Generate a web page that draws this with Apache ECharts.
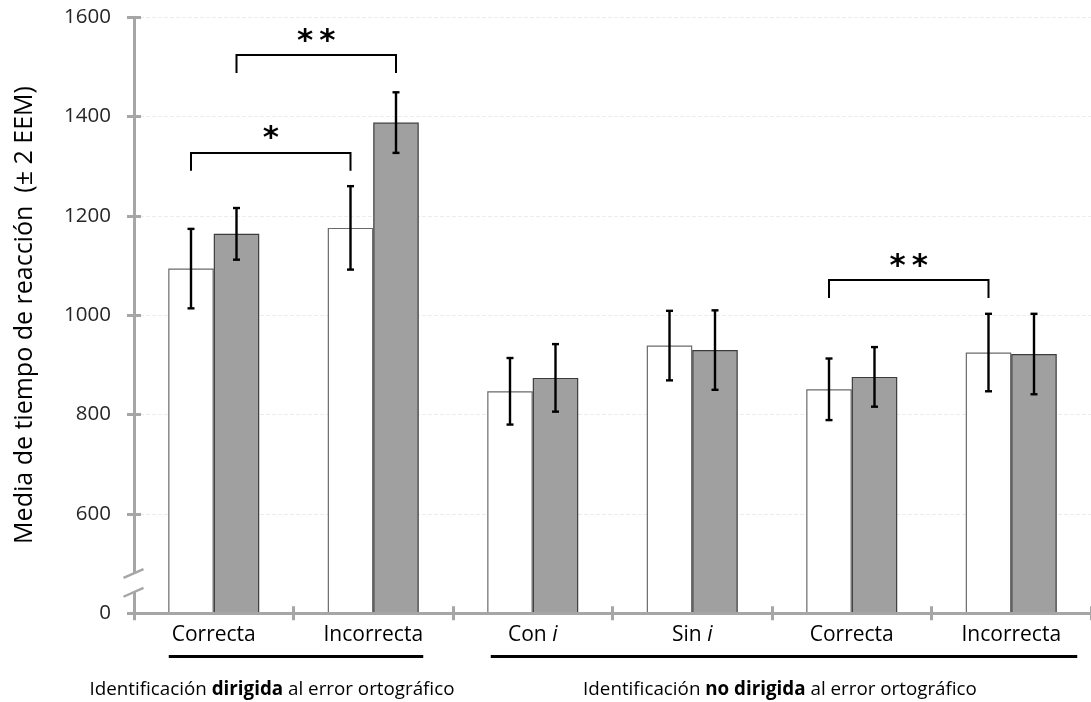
<!DOCTYPE html>
<html>
<head>
<meta charset="utf-8">
<script src="https://cdn.jsdelivr.net/npm/echarts@6/dist/echarts.min.js"></script>
<style>
  html, body { margin: 0; padding: 0; background: #fff; }
  #chart { width: 1091px; height: 702px; }
</style>
</head>
<body>
<div id="chart"></div>
<script>
// Reaction-time means per condition, with ±2 SEM half-widths
const categories = ['Correcta', 'Incorrecta', 'Con i', 'Sin i', 'Correcta', 'Incorrecta'];
const whiteMeans = [1094, 1176, 847, 939, 851, 925];
const whiteErr   = [80, 84, 67, 70, 62, 78];
const grayMeans  = [1164, 1388, 874, 930, 876, 922];
const grayErr    = [52, 61, 68, 80, 60, 81];
const yTickLabels = ['0', '600', '800', '1000', '1200', '1400', '1600'];
// Significance brackets: [from category, bar side, to category, bar side, bracket level, leg end]
const bracketSpans = [
  [0, -1, 1, -1, 1327, 1291],
  [0,  1, 1,  1, 1524, 1488],
  [4, -1, 5, -1, 1071, 1035]
];
const bracketLabels = ['*', '**', '**'];

// The value axis is broken between 0 and 600: the band below the break starts at 400
const axisFloor = 400;
const axisTop = 1600;
const axisStep = 200;

const AXIS_GRAY = '#a6a6a6';
const BAR_W = 45.5;
const FONT = '"Open Sans", "DejaVu Sans", sans-serif';

function errorBars(side) {
  return function (params, api) {
    const i = api.value(0);
    const hi = api.coord([i, api.value(2)]);
    const lo = api.coord([i, api.value(1)]);
    const x = hi[0] + side * BAR_W / 2;
    const cap = 3.5;
    const style = { stroke: '#000', lineWidth: 2.4, fill: null };
    return {
      type: 'group',
      children: [
        { type: 'line', shape: { x1: x, y1: hi[1], x2: x, y2: lo[1] }, style },
        { type: 'line', shape: { x1: x - cap, y1: hi[1], x2: x + cap, y2: hi[1] }, style },
        { type: 'line', shape: { x1: x - cap, y1: lo[1], x2: x + cap, y2: lo[1] }, style }
      ]
    };
  };
}

function bracketItem(params, api) {
  const a = api.coord([api.value(0), api.value(4)]);
  const b = api.coord([api.value(2), api.value(4)]);
  const legY = api.coord([api.value(0), api.value(5)])[1];
  const x1 = a[0] + api.value(1) * BAR_W / 2;
  const x2 = b[0] + api.value(3) * BAR_W / 2;
  const y = a[1];
  const label = bracketLabels[params.dataIndex];
  return {
    type: 'group',
    children: [
      {
        type: 'polyline',
        shape: { points: [[x1, legY], [x1, y], [x2, y], [x2, legY]] },
        style: { stroke: '#000', lineWidth: 2, fill: null }
      },
      {
        type: 'text',
        style: {
          text: label.split('').join('\u2009'),
          x: (x1 + x2) / 2,
          y: y + 2,
          align: 'center',
          verticalAlign: 'bottom',
          fontSize: 31,
          fontWeight: 'bold',
          fontFamily: '"DejaVu Sans", sans-serif',
          fill: '#000'
        }
      }
    ]
  };
}

const categoryLabel = v => v.replace(/ i$/, ' {it|i}');

const chart = echarts.init(document.getElementById('chart'), null, { renderer: 'canvas' });

chart.setOption({
  animation: false,
  backgroundColor: '#fff',
  grid: { left: 134, right: -6, top: 17.3, bottom: 88.7, containLabel: false },
  xAxis: [
    {
      type: 'category',
      data: categories,
      z: 5,
      axisLine: { lineStyle: { color: AXIS_GRAY, width: 3 } },
      axisTick: { show: true, inside: false, length: 7, interval: 0, lineStyle: { color: AXIS_GRAY, width: 3 } },
      axisLabel: {
        interval: 0, margin: 11, color: '#000', fontSize: 21, fontFamily: FONT,
        formatter: categoryLabel,
        rich: { it: { fontStyle: 'italic', fontSize: 21, fontFamily: FONT, color: '#000' } }
      },
      splitLine: { show: false }
    },
    {
      type: 'category',
      data: categories,
      position: 'bottom',
      z: 5,
      axisLine: { show: false },
      axisTick: { show: true, inside: true, length: 7, interval: 0, lineStyle: { color: AXIS_GRAY, width: 3 } },
      axisLabel: { show: false },
      splitLine: { show: false }
    }
  ],
  yAxis: [
    {
      type: 'value',
      min: axisFloor, max: axisTop, interval: axisStep,
      startValue: axisFloor,
      axisLine: { show: true, lineStyle: { color: AXIS_GRAY, width: 3 } },
      axisTick: { show: true, inside: false, length: 7, lineStyle: { color: AXIS_GRAY, width: 3 } },
      axisLabel: {
        margin: 23, color: '#262626', fontSize: 20.5, fontFamily: FONT,
        formatter: v => yTickLabels[Math.round((v - axisFloor) / axisStep)]
      },
      splitLine: { show: true, lineStyle: { color: '#ececec', width: 1, type: 'dashed' } }
    },
    {
      type: 'value',
      min: axisFloor, max: axisTop, interval: axisStep,
      position: 'left',
      axisLine: { show: false },
      axisTick: { show: true, inside: true, length: 7, lineStyle: { color: AXIS_GRAY, width: 3 } },
      axisLabel: { show: false },
      splitLine: { show: false }
    }
  ],
  series: [
    {
      name: 'Blanco', type: 'bar', data: whiteMeans, barWidth: BAR_W, barGap: '0%', clip: true,
      itemStyle: { color: '#ffffff', borderColor: '#6a6a6a', borderWidth: 1.2 }
    },
    {
      name: 'Gris', type: 'bar', data: grayMeans, barWidth: BAR_W, barGap: '0%', clip: true,
      itemStyle: { color: '#a0a0a0', borderColor: '#3c3c3c', borderWidth: 1.2 }
    },
    {
      type: 'custom', z: 4, renderItem: errorBars(-1),
      encode: { x: 0, y: [1, 2] },
      data: whiteMeans.map((m, i) => [i, m - whiteErr[i], m + whiteErr[i]])
    },
    {
      type: 'custom', z: 4, renderItem: errorBars(1),
      encode: { x: 0, y: [1, 2] },
      data: grayMeans.map((m, i) => [i, m - grayErr[i], m + grayErr[i]])
    },
    {
      type: 'custom', z: 4, renderItem: bracketItem,
      encode: { x: [0, 2], y: [4, 5] },
      data: bracketSpans
    }
  ]
});

// Axis break marks, group underlines and titles
const axisX = 134.5;
const breakTop = chart.convertToPixel({ yAxisIndex: 0 }, 481);
const breakBot = chart.convertToPixel({ yAxisIndex: 0 }, 443);
const catX = i => chart.convertToPixel({ xAxisIndex: 0 }, i);
const slash = (cy) => ({
  type: 'line', z: 101,
  shape: { x1: axisX - 11, y1: cy + 4.8, x2: axisX + 9, y2: cy - 4 },
  style: { stroke: AXIS_GRAY, lineWidth: 2.4 }
});
const underline = (x1, x2) => ({
  type: 'line', z: 50,
  shape: { x1, y1: 656.5, x2, y2: 656.5 },
  style: { stroke: '#000', lineWidth: 3 }
});
const groupTitle = (cx, middle) => ({
  type: 'text', z: 50,
  x: cx, y: 690,
  style: {
    text: '{n|Identificación }{b|' + middle + '}{n| al error ortográfico}',
    align: 'center', verticalAlign: 'middle',
    rich: {
      n: { fontSize: 18.8, fontFamily: FONT, color: '#000' },
      b: { fontSize: 18.8, fontFamily: FONT, fontWeight: 'bold', color: '#000' }
    }
  }
});

chart.setOption({
  graphic: [
    {
      type: 'rect', z: 100,
      shape: { x: axisX - 3, y: breakTop, width: 6, height: breakBot - breakTop },
      style: { fill: '#fff' }
    },
    slash(breakTop),
    slash(breakBot),
    underline(catX(0) - 45, catX(1) + 50),
    underline(catX(2) - 42, catX(5) + 66),
    groupTitle(272, 'dirigida'),
    groupTitle(780, 'no dirigida'),
    {
      type: 'text', z: 50,
      x: 25, y: 315, rotation: Math.PI / 2,
      style: {
        text: 'Media de tiempo de reacción  (± 2 EEM)',
        align: 'center', verticalAlign: 'middle',
        fontSize: 25, fontFamily: FONT, fill: '#000'
      }
    }
  ]
});
</script>
</body>
</html>
